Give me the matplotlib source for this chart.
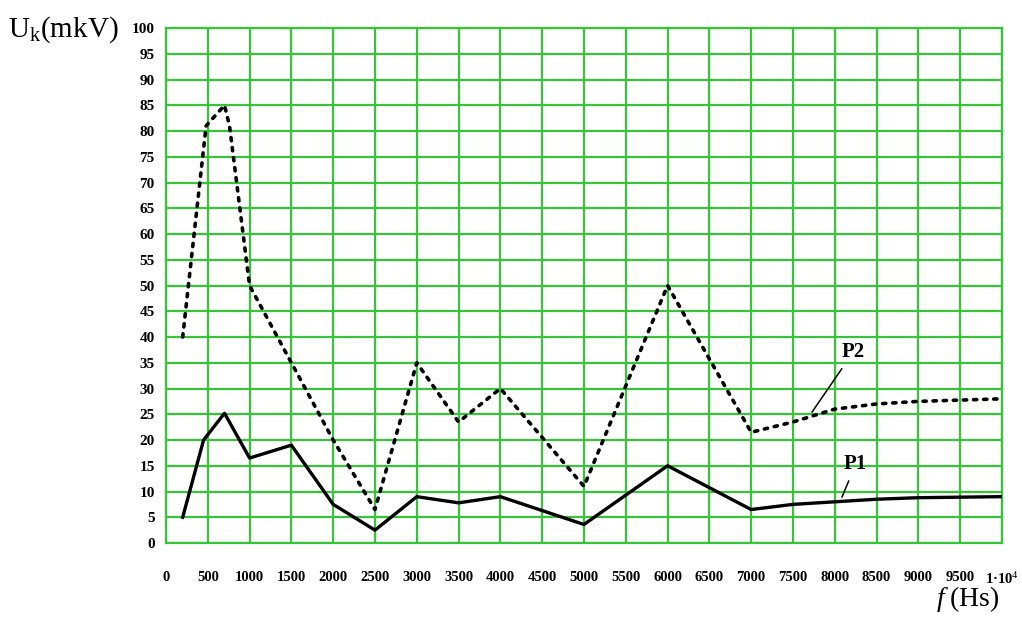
import matplotlib.pyplot as plt
from matplotlib.ticker import FixedLocator

plt.rcParams['font.family'] = 'Liberation Serif'
plt.rcParams['mathtext.fontset'] = 'custom'
plt.rcParams['mathtext.rm'] = 'Liberation Serif'
plt.rcParams['mathtext.it'] = 'Liberation Serif:italic'

# frequency (Hz) and voltage (mkV) for both probes
freq_p1 = [200, 450, 700, 1000, 1500, 2000, 2500, 3000, 3500, 4000, 5000,
           6000, 7000, 7500, 8000, 8500, 9000, 10000]
volt_p1 = [5, 20, 25.2, 16.5, 19, 7.5, 2.5, 9, 7.8, 9, 3.6,
           15, 6.5, 7.5, 8, 8.5, 8.8, 9]

freq_p2 = [200, 480, 590, 700, 760, 1000, 1500, 2000, 2500, 3000, 3500,
           4000, 5000, 6000, 7000, 7500, 8000, 8500, 9000, 10000]
volt_p2 = [40, 81, 83, 85, 81, 50, 35, 20, 6.5, 35, 23.5,
           30, 11, 50, 21.5, 23.5, 26, 27, 27.5, 28]

x_ticks = list(range(0, 10001, 500))
x_labels = [str(v) for v in x_ticks[:-1]] + ['1·10$^4$']
y_ticks = list(range(0, 101, 5))

grid_green = '#38c438'

fig = plt.figure(figsize=(10.22, 6.23), dpi=100)
ax = fig.add_axes([0.1624, 0.1284, 0.818, 0.8266])

ax.plot(freq_p2, volt_p2, color='black', lw=2.6, linestyle=(0, (0.9, 1.9)),
        dash_capstyle='round', zorder=3)
ax.plot(freq_p1, volt_p1, color='black', lw=2.4, zorder=4)

ax.set_xlim(0, 10000)
ax.set_ylim(0, 100)
ax.xaxis.set_major_locator(FixedLocator(x_ticks))
ax.yaxis.set_major_locator(FixedLocator(y_ticks))
ax.set_xticklabels(x_labels, fontsize=10.5, fontweight='bold')
ax.set_yticklabels([str(v) for v in y_ticks], fontsize=11, fontweight='bold')
ax.tick_params(axis='x', length=0, pad=20)
ax.tick_params(axis='y', length=0, pad=8)

ax.grid(True, color=grid_green, lw=1.6)
ax.set_axisbelow(True)
for s in ax.spines.values():
    s.set_color(grid_green)
    s.set_linewidth(1.6)

# probe labels with leader lines
ax.annotate('P2', xy=(7727, 25.4), xytext=(8218, 37), fontsize=15,
            fontweight='bold', ha='center', va='center',
            arrowprops=dict(arrowstyle='-', color='black', lw=1.1,
                            shrinkA=3, shrinkB=0))
ax.annotate('P1', xy=(8086, 8.9), xytext=(8250, 15.3), fontsize=15,
            fontweight='bold', ha='center', va='center',
            arrowprops=dict(arrowstyle='-', color='black', lw=1.1,
                            shrinkA=3, shrinkB=0))

fig.text(0.008, 0.952, 'U$_{\\mathrm{k}}$(mkV)', fontsize=21, ha='left', va='center')
fig.text(0.978, 0.038, '$\\mathit{f}$\u2009(Hs)', fontsize=20, ha='right', va='center',
         family=['Liberation Serif', 'DejaVu Sans'])

fig.savefig('out.png', dpi=100)
